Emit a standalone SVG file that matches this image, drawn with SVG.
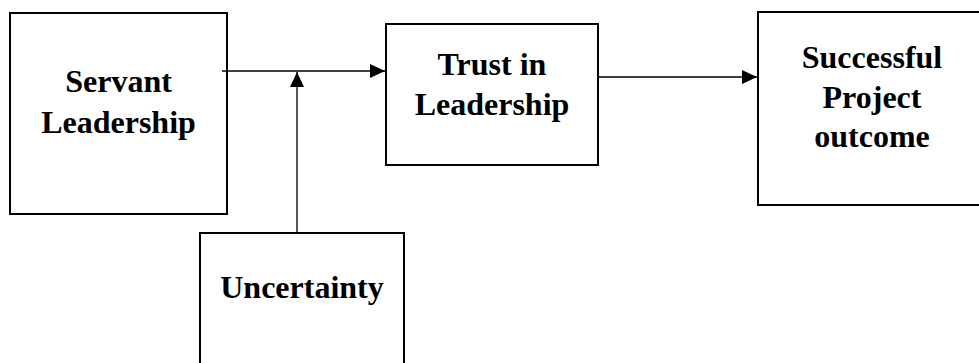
<svg xmlns="http://www.w3.org/2000/svg" width="979" height="363" viewBox="0 0 979 363">
<defs>
<style>
.box{fill:#fff;stroke:#000;stroke-width:2}
.lbl{font-family:"Liberation Serif","Times New Roman",serif;font-weight:bold;font-size:32px;text-anchor:middle;fill:#000}
.ln{stroke:#000;stroke-width:1.3;fill:none}
</style>
<marker id="ah" viewBox="0 0 15 14" refX="15" refY="7" markerWidth="15" markerHeight="14" markerUnits="userSpaceOnUse" orient="auto">
<path d="M0,0 L15,7 L0,14 Z" fill="#000"/>
</marker>
</defs>
<rect width="979" height="363" fill="#fff"/>
<g id="servant">
<rect class="box" x="10" y="13" width="217" height="201"/>
<text class="lbl" x="118.5" y="92">Servant</text>
<text class="lbl" x="118.5" y="133">Leadership</text>
</g>
<g id="trust">
<rect class="box" x="386" y="24" width="212" height="141"/>
<text class="lbl" x="492" y="75">Trust in</text>
<text class="lbl" x="492" y="115">Leadership</text>
</g>
<g id="success">
<rect class="box" x="758" y="12" width="228" height="193"/>
<text class="lbl" x="872" y="68">Successful</text>
<text class="lbl" x="872" y="108">Project</text>
<text class="lbl" x="872" y="147">outcome</text>
</g>
<g id="uncertainty">
<rect class="box" x="200" y="233" width="204" height="140"/>
<text class="lbl" x="302" y="298">Uncertainty</text>
</g>
<g id="connectors">
<line class="ln" x1="222" y1="71" x2="385" y2="71" marker-end="url(#ah)"/>
<line class="ln" x1="297" y1="233" x2="297" y2="72" marker-end="url(#ah)"/>
<line class="ln" x1="598" y1="77" x2="757" y2="77" marker-end="url(#ah)"/>
</g>
</svg>
